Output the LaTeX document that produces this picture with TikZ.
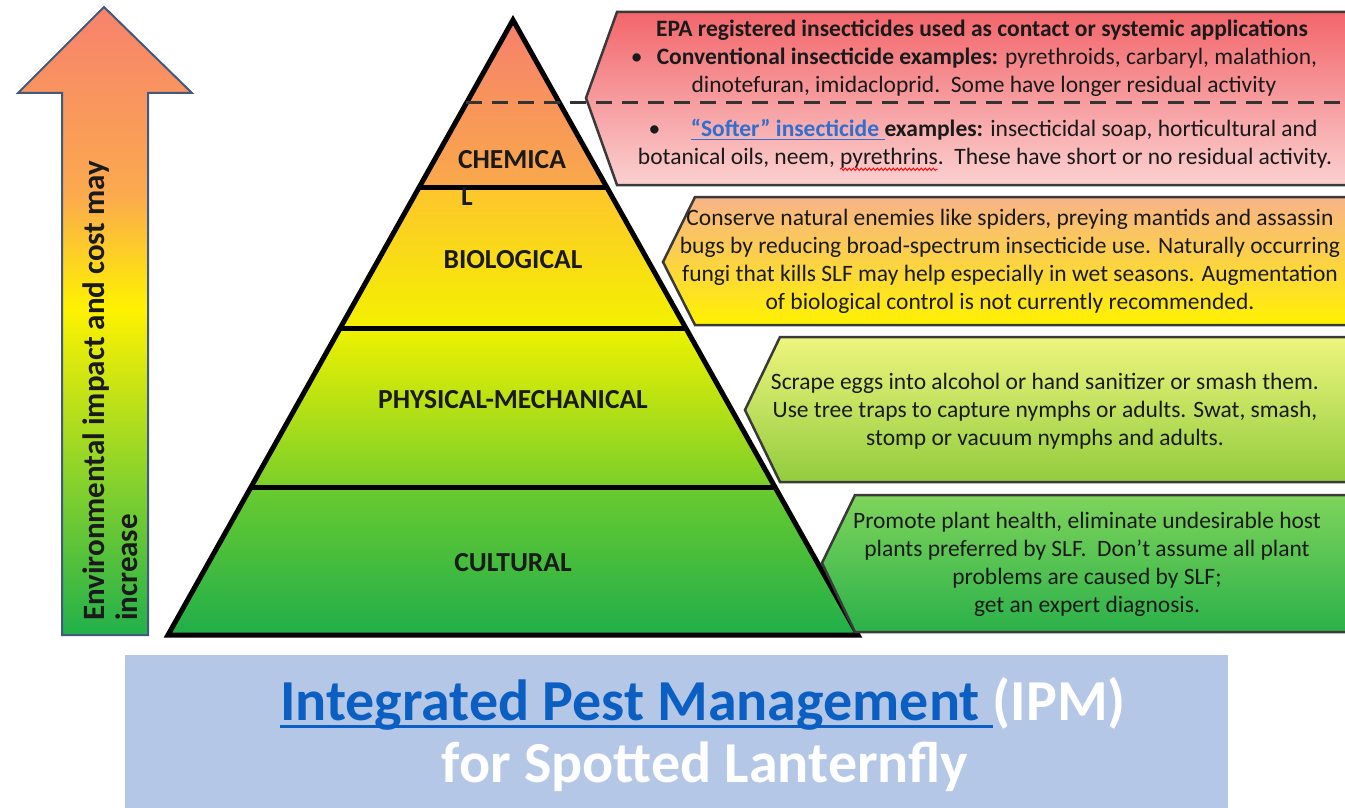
\documentclass[tikz,border=0pt]{standalone}
\usepackage{fontspec}
\setmainfont{Carlito}
\usetikzlibrary{calc,decorations.pathmorphing}

% palette
\definecolor{arrR}{HTML}{F7826D}
\definecolor{arrO}{HTML}{FBAA4E}
\definecolor{arrY}{HTML}{FFF200}
\definecolor{arrG}{HTML}{8DD42A}
\definecolor{arrD}{HTML}{22B04B}
\definecolor{arrowedge}{HTML}{41597C}
\definecolor{chemtop}{HTML}{F6806C}
\definecolor{chembot}{HTML}{F9A94B}
\definecolor{biotop}{HTML}{FEC52D}
\definecolor{biobot}{HTML}{F4F100}
\definecolor{phystop}{HTML}{EEF200}
\definecolor{physmid}{HTML}{B5E11B}
\definecolor{physbot}{HTML}{7BCF2A}
\definecolor{culttop}{HTML}{6ACB2F}
\definecolor{cultbot}{HTML}{20AE4A}
\definecolor{cAtop}{HTML}{F2666B}
\definecolor{cAbot}{HTML}{FBD0D0}
\definecolor{cBtop}{HTML}{F8B389}
\definecolor{cBbot}{HTML}{FFF200}
\definecolor{cCtop}{HTML}{EEF57E}
\definecolor{cCbot}{HTML}{92CC3D}
\definecolor{cDtop}{HTML}{7FD45B}
\definecolor{cDbot}{HTML}{2BB14A}
\definecolor{calloutedge}{HTML}{3A3A3A}
\definecolor{bannerblue}{HTML}{B4C7E7}
\definecolor{ipmblue}{HTML}{0B5FC2}
\definecolor{linkblue}{HTML}{2E6FD0}
\definecolor{inktext}{HTML}{1A1A1A}

% red-green-yellow ramp for the upward arrow (path box maps to 25bp..75bp)
\pgfdeclareverticalshading{envshade}{100bp}{%
  color(0bp)=(arrD); color(25bp)=(arrD); color(38bp)=(arrG);
  color(51bp)=(arrY); color(60bp)=(arrO); color(75bp)=(arrR); color(100bp)=(arrR)}

% thick underline: depth, thickness, text
\newsavebox\ulbox
\newcommand\thickul[3]{\sbox\ulbox{#3}\rlap{\rule[-#1]{\wd\ulbox}{#2}}\usebox\ulbox}

\newlength\prewd
\newlength\pyrwd

\begin{document}
\settowidth{\prewd}{\fontsize{23.5}{28}\selectfont botanical oils, neem, }
\settowidth{\pyrwd}{\fontsize{23.5}{28}\selectfont pyrethrins}
\begin{tikzpicture}[x=1pt,y=-1pt,
  arrowtxt/.style={font=\fontsize{31}{33}\selectfont\bfseries, align=left, inner sep=0, text=inktext},
  tier/.style={font=\fontsize{27.5}{37}\selectfont\bfseries, inner sep=0, text=inktext},
  calloutbox/.style={draw=calloutedge, line width=2.5, line join=miter},
  callouttxt/.style={font=\fontsize{23.5}{28}\selectfont, align=center, inner sep=0, text=inktext},
  tierline/.style={line width=5, line join=miter},
  splitline/.style={line width=3, dash pattern=on 16pt off 10pt, color=black!80},
  bannertxt/.style={font=\fontsize{58}{64}\selectfont\bfseries, inner sep=0, text=white}]
\useasboundingbox (0,0) rectangle (1345,808);
\clip (0,0) rectangle (1345,808);

% upward arrow on the left
\shade[shading=envshade, draw=arrowedge, line width=2]
  (104,7) -- (192,93) -- (148,93) -- (148,635) -- (62,635) -- (62,93) -- (18,93) -- cycle;
\node[arrowtxt, rotate=90, anchor=north west] (envtxt) at (83,621)
  {Environmental impact and cost may\\increase};

% pyramid tiers
\shade[top color=chemtop, bottom color=chembot] (513,20) -- (606.7,187) -- (419.3,187) -- cycle;
\shade[top color=biotop, bottom color=biobot] (419.3,187) -- (606.7,187) -- (685.8,328) -- (340.2,328) -- cycle;
\shade[top color=phystop, middle color=physmid, bottom color=physbot] (340.2,328) -- (685.8,328) -- (775,487) -- (251,487) -- cycle;
\shade[top color=culttop, bottom color=cultbot] (251,487) -- (775,487) -- (858,635) -- (168,635) -- cycle;
\draw[tierline] (513,20) -- (858,635) -- (168,635) -- cycle;
\draw[tierline] (419.3,187) -- (606.7,187);
\draw[tierline] (340.2,328) -- (685.8,328);
\draw[tierline] (251,487) -- (775,487);

\node[tier, align=left] (chem) at (512,178) {CHEMICA\\\hspace{3pt}L};
\node[tier] (bio) at (513,260) {BIOLOGICAL};
\node[tier] (phys) at (513,400) {PHYSICAL-MECHANICAL};
\node[tier] (cult) at (513,563) {CULTURAL};

% callouts
\shade[calloutbox, top color=cAtop, bottom color=cAbot]
  (1360,12) -- (617,12) -- (586,98) -- (617,185) -- (1360,185);
\shade[calloutbox, top color=cBtop, bottom color=cBbot]
  (1360,197) -- (695,197) -- (663,262) -- (695,325) -- (1360,325);
\shade[calloutbox, top color=cCtop, bottom color=cCbot]
  (1360,337) -- (780,337) -- (745,410) -- (780,482) -- (1360,482);
\shade[calloutbox, top color=cDtop, bottom color=cDbot]
  (1360,495) -- (855,495) -- (822,563) -- (855,632) -- (1360,632);

% split between conventional and softer insecticides
\draw[splitline] (466.4,103) -- (1345,103);

% chemical callout text
\node[callouttxt] (c1a) at (982,30) {\textbf{EPA registered insecticides used as contact or systemic applications}};
\node[callouttxt] (c1b) at (974,58) {\textbullet\hspace{0.6em}\textbf{Conventional insecticide examples:} pyrethroids, carbaryl, malathion,};
\node[callouttxt] (c1c) at (984,86) {dinotefuran, imidacloprid.\ \ Some have longer residual activity};
\node[callouttxt] (c1d) at (983,130) {\textbullet\hspace{1.3em}\textbf{\color{linkblue}\thickul{3.5pt}{1.6pt}{“Softer” insecticide\ }}\textbf{examples:} insecticidal soap, horticultural and};
\node[callouttxt] (c1e) at (985,158) {botanical oils, neem, pyrethrins.\ \ These have short or no residual activity.};
\draw[red, line width=0.9, decorate, decoration={snake, amplitude=1.2pt, segment length=4pt}]
  ([xshift=\prewd, yshift=-5pt]c1e.base west) -- ([xshift=\prewd+\pyrwd, yshift=-5pt]c1e.base west);

% biological callout text
\node[callouttxt] (c2) at (1010,261) {Conserve natural enemies like spiders, preying mantids and assassin\\
bugs by reducing broad-spectrum insecticide use. Naturally occurring\\
fungi that kills SLF may help especially in wet seasons. Augmentation\\
of biological control is not currently recommended.};

% physical-mechanical callout text
\node[callouttxt] (c3) at (1045,411) {Scrape eggs into alcohol or hand sanitizer or smash them.\\
Use tree traps to capture nymphs or adults. Swat, smash,\\
stomp or vacuum nymphs and adults.};

% cultural callout text
\node[callouttxt] (c4) at (1087,564.5) {Promote plant health, eliminate undesirable host\\
plants preferred by SLF.\ \ Don’t assume all plant\\
problems are caused by SLF;\\
get an expert diagnosis.};

% title banner
\fill[bannerblue] (125,655) rectangle (1228,812);
\node[bannertxt, anchor=base west] (title1) at (280,720)
  {{\color{ipmblue}\thickul{8pt}{3.5pt}{Integrated Pest Management\ }}(IPM)};
\node[bannertxt, anchor=base] (title2) at (705,782) {for Spotted Lanternfly};
\end{tikzpicture}
\end{document}
